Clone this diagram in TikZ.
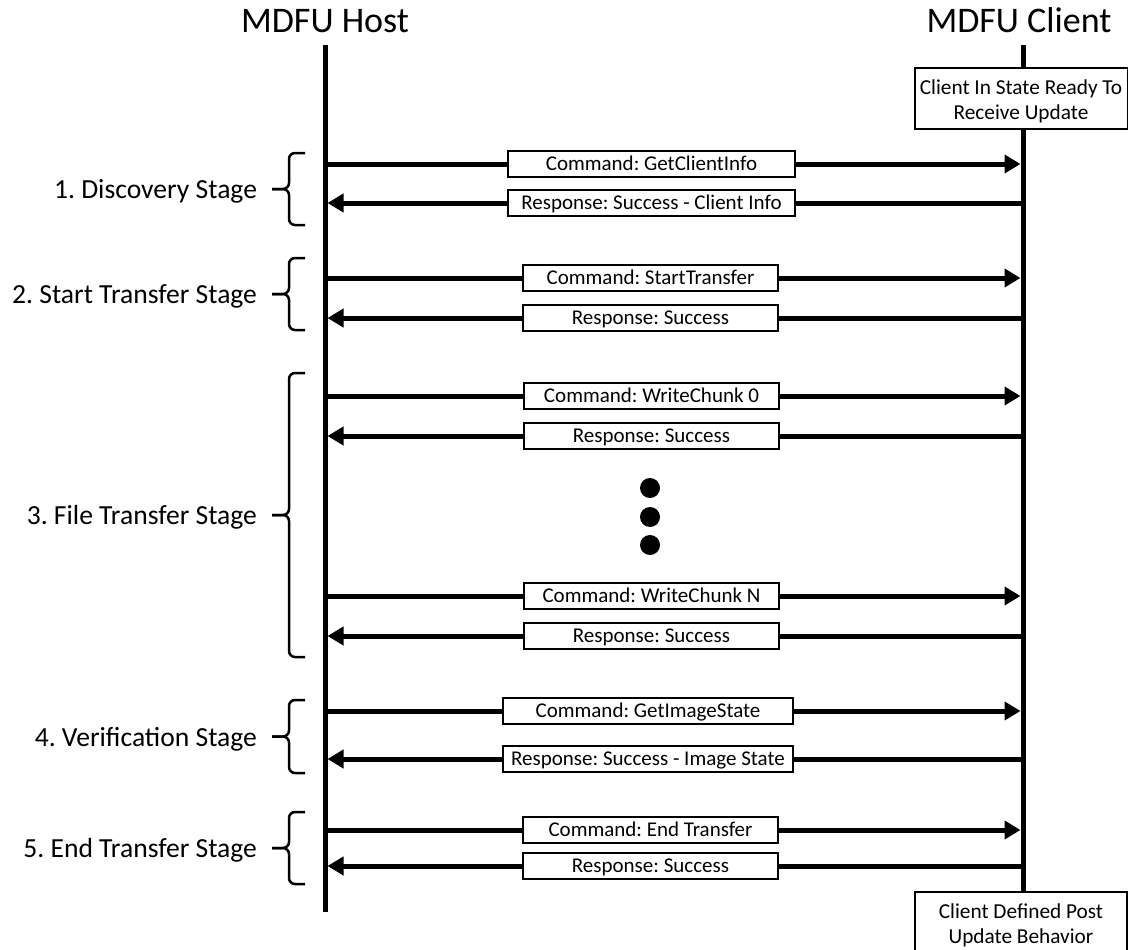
\documentclass[tikz,border=0pt]{standalone}
\usepackage{fontspec}
\setmainfont{Carlito}
\usetikzlibrary{arrows.meta}
\frenchspacing
\begin{document}
\begin{tikzpicture}[x=1pt,y=-1pt,
  lifeline/.style={line width=5pt},
  msg/.style={line width=5pt,-{Triangle[length=16pt,width=18pt]}},
  msgbox/.style={draw,line width=2pt,fill=white,minimum height=26pt,inner sep=0pt,
    text height=16pt,text depth=3pt,font=\fontsize{21}{23}\selectfont},
  statebox/.style={draw,line width=2pt,fill=white,inner sep=0pt},
  statetext/.style={align=center,inner sep=0pt,font=\fontsize{21.3}{25}\selectfont},
  title/.style={anchor=base,font=\fontsize{36}{40}\selectfont},
  stagelabel/.style={anchor=base east,font=\fontsize{27.6}{30}\selectfont},
  stagebrace/.style={line width=2.5pt,rounded corners=6pt},
  dot/.style={circle,fill=black,inner sep=0pt,minimum size=20pt}
]
\clip (0,0) rectangle (1128,950);

% titles
\node[title] (hostTitle) at (325,33) {MDFU Host};
\node[title] (clientTitle) at (1019,33) {MDFU Client};

% lifelines and client state boxes
\coordinate (hostTop) at (325,45);
\coordinate (hostBot) at (325,912);
\coordinate (clientTop) at (1023,45);
\node[statebox,minimum width=213pt,minimum height=60pt] (readyBox) at (1021,98.5) {};
\node[statebox,minimum width=212pt,minimum height=66pt] (postBox) at (1021,925) {};
\draw[lifeline] (hostTop) -- (hostBot);
\draw[lifeline] (clientTop) -- (clientTop |- readyBox.north);
\draw[lifeline] (clientTop |- readyBox.south) -- (clientTop |- postBox.north);
\node[statetext] (readyText) at ([yshift=-2.5pt]readyBox.center)
  {Client In State Ready To\\Receive Update};
\node[statetext] (postText) at (postBox.center)
  {Client Defined Post\\Update Behavior};

% messages: y / box centre / box width / kind / text
\foreach \i/\y/\cx/\w/\k/\txt in {
  1/164/651.5/287/c/{Command: GetClientInfo},
  2/203/651.5/287/r/{Response: Success - Client Info},
  3/278/650.5/255/c/{Command: StartTransfer},
  4/318/650.5/255/r/{Response: Success},
  5/396/651.5/255/c/{Command: WriteChunk 0},
  6/436/651.5/255/r/{Response: Success},
  7/596/651.5/255/c/{Command: WriteChunk N},
  8/636/651.5/255/r/{Response: Success},
  9/711/648/290/c/{Command: GetImageState},
  10/759/648/290/r/{Response: Success - Image State},
  11/830/650.5/255/c/{Command: End Transfer},
  12/866/650.5/255/r/{Response: Success}} {
  \coordinate (h\i) at (325,\y);
  \coordinate (c\i) at (1023,\y);
  \if\k c
    \draw[msg] (h\i) -- ([xshift=-2.5pt]c\i);
  \else
    \draw[msg] (c\i) -- ([xshift=2.5pt]h\i);
  \fi
  \node[msgbox,minimum width=\w pt] (m\i) at (\cx,\y) {\txt};
}

% ellipsis between chunks
\node[dot] (dotA) at (650,488) {};
\node[dot] (dotB) at (650,517) {};
\node[dot] (dotC) at (650,545) {};

% stage brackets with labels
\foreach \j/\t/\b/\txt in {
  1/153/225/{1. Discovery Stage},
  2/258/330/{2. Start Transfer Stage},
  3/373/657/{3. File Transfer Stage},
  4/700/773/{4. Verification Stage},
  5/812/884/{5. End Transfer Stage}} {
  \pgfmathsetmacro\m{(\t+\b)/2}
  \coordinate (bt\j) at (305,\t);
  \coordinate (bb\j) at (305,\b);
  \coordinate (tip\j) at (272,\m);
  \draw[stagebrace] (bt\j) -- (289,\t) -- (289,\m) -- (tip\j);
  \draw[stagebrace] (bb\j) -- (289,\b) -- (289,\m) -- (tip\j);
  \node[stagelabel] (s\j) at (260.5,\m+9.5) {\txt};
}
\end{tikzpicture}
\end{document}
